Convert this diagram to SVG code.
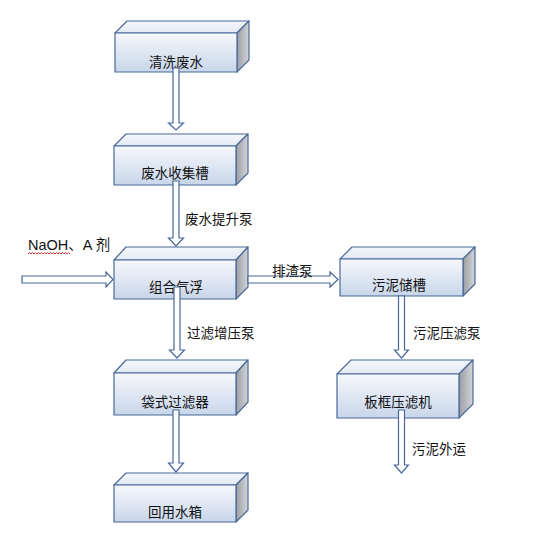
<svg xmlns="http://www.w3.org/2000/svg" width="547" height="555" viewBox="0 0 547 555">
<defs>
<linearGradient id="gf" x1="0" y1="0" x2="0" y2="1">
<stop offset="0" stop-color="#f6f8fc"/>
<stop offset="1" stop-color="#c8d6ea"/>
</linearGradient>
<linearGradient id="gt" x1="0" y1="0" x2="0" y2="1">
<stop offset="0" stop-color="#f4f7fb"/>
<stop offset="1" stop-color="#e3eaf4"/>
</linearGradient>
<linearGradient id="gs" x1="0" y1="0" x2="1" y2="0">
<stop offset="0" stop-color="#9c9ea3"/>
<stop offset="1" stop-color="#d3d5d9"/>
</linearGradient>
</defs>
<style>
.f{fill:url(#gf);stroke:#4a6899;stroke-width:1.2;stroke-linejoin:round}
.t{fill:url(#gt);stroke:#4a6899;stroke-width:1.2;stroke-linejoin:round}
.s{fill:url(#gs);stroke:#4a6899;stroke-width:1.2;stroke-linejoin:round}
.a{fill:#ffffff;stroke:#4a6899;stroke-width:1.2;stroke-linejoin:miter}
text{font-family:"Liberation Sans","Noto Sans CJK SC",sans-serif;font-size:13.5px;fill:#111111}
.c{text-anchor:middle}
</style>
<rect width="547" height="555" fill="#ffffff"/>
<g id="n1">
<polygon class="t" points="115,33 127,21 249,21 237,33"/>
<polygon class="s" points="237,33 249,21 249,60 237,72"/>
<rect class="f" x="115" y="33" width="122" height="39"/>
<text class="c" x="176" y="67">清洗废水</text>
</g>
<g id="n2">
<polygon class="t" points="114,146 126,134 248,134 236,146"/>
<polygon class="s" points="236,146 248,134 248,173 236,185"/>
<rect class="f" x="114" y="146" width="122" height="39"/>
<text class="c" x="175" y="178">废水收集槽</text>
</g>
<g id="n3">
<polygon class="t" points="114,260 126,247 248,247 236,260"/>
<polygon class="s" points="236,260 248,247 248,287 236,299"/>
<rect class="f" x="114" y="260" width="122" height="39"/>
<text class="c" x="176" y="292">组合气浮</text>
</g>
<g id="n4">
<polygon class="t" points="114,373 126,360 248,360 236,373"/>
<polygon class="s" points="236,373 248,360 248,402 236,415"/>
<rect class="f" x="114" y="373" width="122" height="42"/>
<text class="c" x="175" y="407">袋式过滤器</text>
</g>
<g id="n5">
<polygon class="t" points="114,485 126,473 248,473 236,485"/>
<polygon class="s" points="236,485 248,473 248,510 236,522"/>
<rect class="f" x="114" y="485" width="122" height="37"/>
<text class="c" x="175" y="517">回用水箱</text>
</g>
<g id="n6">
<polygon class="t" points="340,259 352,247 475,247 463,259"/>
<polygon class="s" points="463,259 475,247 475,284 463,296"/>
<rect class="f" x="340" y="259" width="123" height="37"/>
<text class="c" x="399" y="290">污泥储槽</text>
</g>
<g id="n7">
<polygon class="t" points="337,374 351,360 473,360 459,374"/>
<polygon class="s" points="459,374 473,360 473,404 459,418"/>
<rect class="f" x="337" y="374" width="122" height="44"/>
<text class="c" x="398" y="407">板框压滤机</text>
</g>
<g id="connectors">
<polygon class="a" points="173,68 179,68 179,123 183.5,123 176,130 168.5,123 173,123"/>
<polygon class="a" points="173,181 179,181 179,238 183.5,238 176,246 168.5,238 173,238"/>
<polygon class="a" points="174,287 180,287 180,350 184.5,350 177,358 169.5,350 174,350"/>
<polygon class="a" points="173,410 179,410 179,463 183.5,463 176,472 168.5,463 173,463"/>
<polygon class="a" points="398.5,296 404.5,296 404.5,350 408.5,350 401.5,358 394.5,350 398.5,350"/>
<polygon class="a" points="398.5,410 404.5,410 404.5,465 408.5,465 401.5,473 394.5,465 398.5,465"/>
<polygon class="a" points="22,276 106,276 106,272 113,279.5 106,287 106,283 22,283"/>
<polygon class="a" points="248,276 330,276 330,272 338,279.5 330,287 330,283 248,283"/>
</g>
<g id="labels">
<text x="185" y="224">废水提升泵</text>
<text x="187" y="338">过滤增压泵</text>
<text x="272" y="276">排渣泵</text>
<text x="413" y="338">污泥压滤泵</text>
<text x="412" y="454">污泥外运</text>
<text x="28" y="250" style="font-size:14.5px">NaOH、A 剂</text>
<path d="M28,254 l1.5,-1.5 l1.5,1.5 l1.5,-1.5 l1.5,1.5 l1.5,-1.5 l1.5,1.5 l1.5,-1.5 l1.5,1.5 l1.5,-1.5 l1.5,1.5 l1.5,-1.5 l1.5,1.5 l1.5,-1.5 l1.5,1.5 l1.5,-1.5 l1.5,1.5 l1.5,-1.5 l1.5,1.5 l1.5,-1.5 l1.5,1.5 l1.5,-1.5 l1.5,1.5 l1.5,-1.5 l1.5,1.5 l1.5,-1.5 l1.5,1.5 l1.5,-1.5 l1.5,1.5" fill="none" stroke="#d02020" stroke-width="0.9"/>
</g>
</svg>
